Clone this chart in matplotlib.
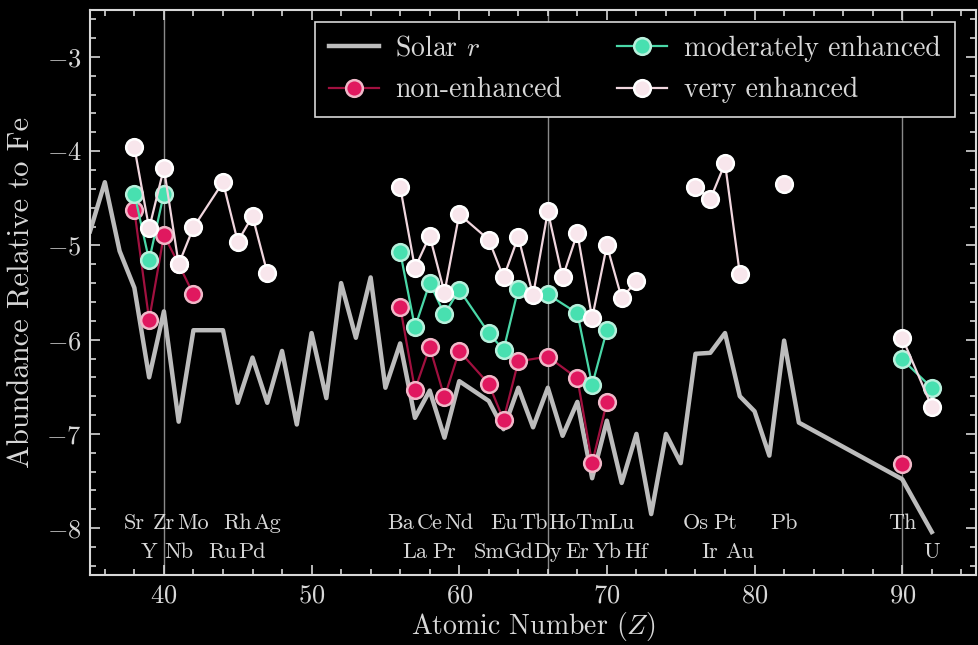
import numpy as np
import matplotlib
matplotlib.use("Agg")
import matplotlib.pyplot as plt

plt.rcParams.update({
    "font.family": "serif",
    "font.serif": ["cmr10", "DejaVu Serif"],
    "mathtext.fontset": "cm",
    "axes.formatter.use_mathtext": True,
    "axes.unicode_minus": True,
})

# Solar r-process pattern (log abundance relative to Fe)
solar_z = [35, 36, 37, 38, 39, 40, 41, 42, 44, 45, 46, 47, 48, 49, 50, 51, 52, 53,
           54, 55, 56, 57, 58, 59, 60, 62, 63, 64, 65, 66, 67, 68, 69, 70, 71, 72,
           73, 74, 75, 76, 77, 78, 79, 80, 81, 82, 83, 90, 92]
solar_r = [-4.85, -4.33, -5.06, -5.45, -6.40, -5.70, -6.87, -5.90, -5.90, -6.67,
           -6.19, -6.67, -6.12, -6.90, -5.93, -6.62, -5.40, -5.98, -5.34, -6.51,
           -6.04, -6.83, -6.54, -7.04, -6.44, -6.65, -6.95, -6.51, -6.93, -6.51,
           -7.02, -6.66, -7.47, -6.86, -7.52, -7.00, -7.85, -7.00, -7.31, -6.15,
           -6.14, -5.93, -6.60, -6.76, -7.23, -6.01, -6.88, -7.48, -8.04]

# Elements measured in the stars
elem_z = [38, 39, 40, 41, 42, 44, 45, 46, 47, 56, 57, 58, 59, 60, 62, 63, 64,
          65, 66, 67, 68, 69, 70, 71, 72, 76, 77, 78, 79, 82, 90, 92]
elem_sym = ["Sr", "Y", "Zr", "Nb", "Mo", "Ru", "Rh", "Pd", "Ag", "Ba", "La",
            "Ce", "Pr", "Nd", "Sm", "Eu", "Gd", "Tb", "Dy", "Ho", "Er", "Tm",
            "Yb", "Lu", "Hf", "Os", "Ir", "Pt", "Au", "Pb", "Th", "U"]
# Label row for each symbol (0 = upper, 1 = lower)
elem_row = [0, 1, 0, 1, 0, 1, 0, 1, 0, 0, 1, 0, 1, 0, 1, 0, 1,
            0, 1, 0, 1, 0, 1, 0, 1, 0, 1, 0, 1, 0, 0, 1]

nan = np.nan
non_enhanced = [-4.63, -5.79, -4.89, -5.20, -5.52, nan, nan, nan, nan,
                -5.65, -6.53, -6.08, -6.61, -6.12, -6.47, -6.85, -6.23,
                nan, -6.18, nan, -6.41, -7.31, -6.66, nan, nan,
                nan, nan, nan, nan, nan, -7.32, nan]
moderately_enhanced = [-4.45, -5.16, -4.45, nan, nan, nan, nan, nan, nan,
                       -5.07, -5.87, -5.40, -5.73, -5.47, -5.93, -6.11, -5.46,
                       nan, -5.52, nan, -5.72, -6.48, -5.90, nan, nan,
                       nan, nan, nan, nan, nan, -6.21, -6.51]
very_enhanced = [-3.96, -4.82, -4.18, -5.20, -4.81, -4.33, -4.96, -4.69, -5.29,
                 -4.38, -5.24, -4.90, -5.50, -4.67, -4.94, -5.34, -4.91,
                 -5.53, -4.64, -5.34, -4.87, -5.77, -5.00, -5.56, -5.38,
                 -4.38, -4.51, -4.13, -5.30, -4.35, -5.98, -6.71]

FG = "#d8d8d8"
fig = plt.figure(figsize=(9.79, 6.45), dpi=100, facecolor="black")
ax = fig.add_axes([0.092, 0.108, 0.905, 0.877], facecolor="black")


def segments(z, v):
    """Split a series into runs joined only across gaps of at most two in Z."""
    z = np.asarray(z, float)
    v = np.asarray(v, float)
    ok = ~np.isnan(v)
    z, v = z[ok], v[ok]
    runs, start = [], 0
    for i in range(1, len(z)):
        if z[i] - z[i - 1] > 2:
            runs.append((z[start:i], v[start:i]))
            start = i
    runs.append((z[start:], v[start:]))
    return runs


def elem_series(values, line_c, face_c, edge_c, label, zo):
    for k, (zz, vv) in enumerate(segments(elem_z, values)):
        ax.plot(zz, vv, "-o", color=line_c, lw=1.6, ms=12,
                mfc=face_c, mec=edge_c, mew=1.8, zorder=zo,
                label=label if k == 0 else None)


for zl in (40, 66, 90):
    ax.axvline(zl, color="#8a8a8a", lw=1.0, zorder=1)

ax.plot(solar_z, solar_r, color="#bcbcbc", lw=3.2, label="Solar $r$", zorder=2)
elem_series(non_enhanced, "#a0103f", "#e0185f", "#f0b8c8", "non-enhanced", 3)
elem_series(moderately_enhanced, "#4ad8a8", "#48e0b0", "#b8f0dc",
            "moderately enhanced", 4)
elem_series(very_enhanced, "#f0d6de", "#f8e6ec", "#ffffff", "very enhanced", 5)

# Element symbols in two staggered rows
for z, s, r in zip(elem_z, elem_sym, elem_row):
    y = -7.95 if r == 0 else -8.25
    ax.text(z, y, s, ha="center", va="center", color=FG, fontsize=16)

ax.set_xlim(35, 95)
ax.set_ylim(-8.5, -2.5)
ax.set_xticks([40, 50, 60, 70, 80, 90])
ax.set_yticks([-8, -7, -6, -5, -4, -3])
ax.xaxis.set_minor_locator(matplotlib.ticker.MultipleLocator(2))
ax.yaxis.set_minor_locator(matplotlib.ticker.MultipleLocator(0.2))
ax.tick_params(which="both", direction="in", top=True, right=True,
               colors=FG, labelcolor=FG, labelsize=19, width=1.2)
ax.tick_params(which="major", length=7, pad=6)
ax.tick_params(which="minor", length=4)
for sp in ax.spines.values():
    sp.set_color(FG)
    sp.set_linewidth(1.5)

ax.set_xlabel("Atomic Number ($Z$)", color=FG, fontsize=20, labelpad=2)
ax.set_ylabel("Abundance Relative to Fe", color=FG, fontsize=22, labelpad=8)

leg = ax.legend(loc="upper right", bbox_to_anchor=(0.976, 0.979),
                borderaxespad=0, ncol=2, fontsize=20, frameon=True,
                facecolor="black", edgecolor=FG, framealpha=1,
                fancybox=False, handlelength=1.8, columnspacing=2.0,
                borderpad=0.5, labelspacing=0.55, handletextpad=0.6)
leg.get_frame().set_linewidth(1.2)
for t in leg.get_texts():
    t.set_color(FG)

fig.savefig("out.png", dpi=100, facecolor="black")
